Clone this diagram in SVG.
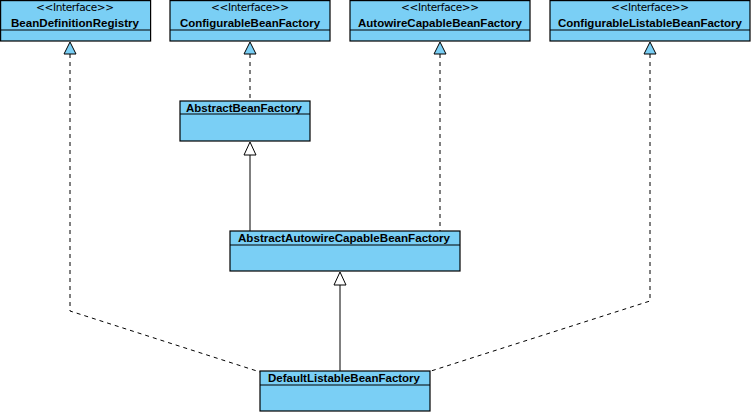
<svg xmlns="http://www.w3.org/2000/svg" width="752" height="414" viewBox="0 0 752 414">
<style>
.box{fill:#7ACFF5;stroke:#000;stroke-width:1.2}
.sep{stroke:#000;stroke-width:1.2}
.st{font-family:"DejaVu Sans",sans-serif;font-size:10.5px;text-anchor:middle;fill:#000}
.nm{font-family:"Liberation Sans",Arial,sans-serif;font-size:11.5px;font-weight:bold;text-anchor:middle;fill:#000}
.dash{fill:none;stroke:#000;stroke-width:1;stroke-dasharray:4,4}
.solid{fill:none;stroke:#000;stroke-width:1}
.itri{fill:#7ACFF5;stroke:#000;stroke-width:1}
.ctri{fill:#fff;stroke:#000;stroke-width:1}
</style>
<rect width="752" height="414" fill="#fff"/>
<g id="connectors">
<polyline class="dash" points="70,54 70,311 260,372"/>
<polygon class="itri" points="70,42 64,54 76,54"/>
<line class="dash" x1="250" y1="54" x2="250" y2="101"/>
<polygon class="itri" points="250,42 244,54 256,54"/>
<line class="dash" x1="440" y1="54" x2="440" y2="231"/>
<polygon class="itri" points="440,42 434,54 446,54"/>
<polyline class="dash" points="650,54 650,301 431,371"/>
<polygon class="itri" points="650,42 644,54 656,54"/>
<line class="solid" x1="250" y1="155" x2="250" y2="231"/>
<polygon class="ctri" points="250,142 244,155 256,155"/>
<line class="solid" x1="340" y1="285" x2="340" y2="371"/>
<polygon class="ctri" points="340,272 334,285 346,285"/>
</g>
<g id="BeanDefinitionRegistry">
<rect class="box" x="0.6" y="0.6" width="150" height="40.4"/>
<line class="sep" x1="0.6" y1="30" x2="150.6" y2="30"/>
<text class="st" x="75" y="11" textLength="78" lengthAdjust="spacing">&lt;&lt;Interface&gt;&gt;</text>
<text class="nm" x="75" y="27" textLength="128" lengthAdjust="spacingAndGlyphs">BeanDefinitionRegistry</text>
</g>
<g id="ConfigurableBeanFactory">
<rect class="box" x="170" y="0.6" width="160" height="40.4"/>
<line class="sep" x1="170" y1="30" x2="330" y2="30"/>
<text class="st" x="250" y="11" textLength="78" lengthAdjust="spacing">&lt;&lt;Interface&gt;&gt;</text>
<text class="nm" x="250" y="27" textLength="140" lengthAdjust="spacingAndGlyphs">ConfigurableBeanFactory</text>
</g>
<g id="AutowireCapableBeanFactory">
<rect class="box" x="350" y="0.6" width="180" height="40.4"/>
<line class="sep" x1="350" y1="30" x2="530" y2="30"/>
<text class="st" x="440" y="11" textLength="78" lengthAdjust="spacing">&lt;&lt;Interface&gt;&gt;</text>
<text class="nm" x="440" y="27" textLength="164" lengthAdjust="spacingAndGlyphs">AutowireCapableBeanFactory</text>
</g>
<g id="ConfigurableListableBeanFactory">
<rect class="box" x="550" y="0.6" width="200" height="40.4"/>
<line class="sep" x1="550" y1="30" x2="750" y2="30"/>
<text class="st" x="650" y="11" textLength="78" lengthAdjust="spacing">&lt;&lt;Interface&gt;&gt;</text>
<text class="nm" x="650" y="27" textLength="184" lengthAdjust="spacingAndGlyphs">ConfigurableListableBeanFactory</text>
</g>
<g id="AbstractBeanFactory">
<rect class="box" x="180" y="101" width="130" height="40"/>
<line class="sep" x1="180" y1="114" x2="310" y2="114"/>
<text class="nm" x="244" y="112" textLength="116" lengthAdjust="spacingAndGlyphs">AbstractBeanFactory</text>
</g>
<g id="AbstractAutowireCapableBeanFactory">
<rect class="box" x="230" y="231" width="230" height="40"/>
<line class="sep" x1="230" y1="245" x2="460" y2="245"/>
<text class="nm" x="344" y="242" textLength="212" lengthAdjust="spacingAndGlyphs">AbstractAutowireCapableBeanFactory</text>
</g>
<g id="DefaultListableBeanFactory">
<rect class="box" x="260" y="371" width="170" height="40"/>
<line class="sep" x1="260" y1="385" x2="430" y2="385"/>
<text class="nm" x="344" y="382" textLength="152" lengthAdjust="spacingAndGlyphs">DefaultListableBeanFactory</text>
</g>
</svg>
